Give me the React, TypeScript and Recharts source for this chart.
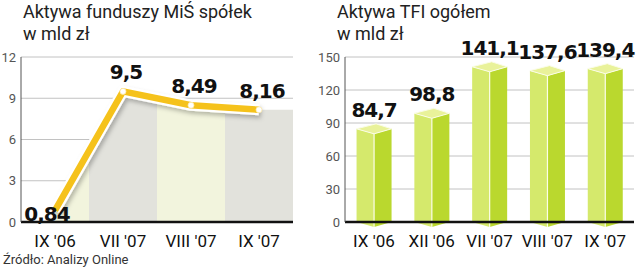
import React from "react";
import {
  ComposedChart,
  BarChart,
  Bar,
  Area,
  Line,
  XAxis,
  YAxis,
  CartesianGrid,
  ReferenceArea,
  LabelList,
} from "recharts";

const missCategories = ["IX '06", "VII '07", "VIII '07", "IX '07"];
const missValues = [0.84, 9.5, 8.49, 8.16];
const missTicks = [0, 3, 6, 9, 12];

const tfiCategories = ["IX '06", "XII '06", "VII '07", "VIII '07", "IX '07"];
const tfiValues = [84.7, 98.8, 141.1, 137.6, 139.4];
const tfiTicks = [0, 30, 60, 90, 120, 150];

const FONT = "Roboto, 'Open Sans', sans-serif";
const NUM_FONT = "'DejaVu Sans', Roboto, sans-serif";
const YELLOW = "#f5c21b";
const BAND_PALE = "#f2f4dd";
const BAND_GRAY = "#e2e2dc";

const fmt = (v: number) => String(v).replace(".", ",");

const missData = missCategories.map((name, i) => ({ name, value: missValues[i] }));
const tfiData = tfiCategories.map((name, i) => ({ name, value: tfiValues[i] }));

const numStyle = {
  fontFamily: NUM_FONT,
  fontWeight: 700,
  fontSize: 20,
  letterSpacing: -1,
};

// value labels over the yellow line; the first one sits down on the axis
function MissLabel(props: any) {
  const { x, y, value, index } = props;
  const first = index === 0;
  return (
    <text
      x={first ? x - 8 : x + 3}
      y={first ? y + 11 : y - 12}
      textAnchor="middle"
      style={numStyle}
      fill="#111"
    >
      {fmt(value)}
    </text>
  );
}

function WhiteDot(props: any) {
  const { cx, cy, index } = props;
  if (index === 0) return <g key="d0" />;
  return <circle key={`d${index}`} cx={cx} cy={cy} r={3} fill="#fff" stroke="#fbe9a8" strokeWidth={0.8} />;
}

// little prism: two front faces and a lozenge on top
function Prism(props: any) {
  const { x, y, width, height } = props;
  if (width == null || height == null) return null;
  const d = 5;
  const cx = x + width / 2;
  const base = y + height;
  return (
    <g>
      <path d={`M${x},${y} L${cx},${y + d} L${cx},${base + d} L${x},${base} Z`} fill="#d5e96c" />
      <path d={`M${cx},${y + d} L${x + width},${y} L${x + width},${base} L${cx},${base + d} Z`} fill="#bad82e" />
      <path
        d={`M${x},${y} L${cx + 2},${y - d} L${x + width},${y} L${cx},${y + d} Z`}
        fill="#e9f29a"
        stroke="#fbfde8"
        strokeWidth={1}
      />
      <line x1={cx} y1={y + d} x2={cx} y2={base + d} stroke="#fbfde8" strokeWidth={1.2} />
    </g>
  );
}

function TfiLabel(props: any) {
  const { x, y, width, value } = props;
  return (
    <text x={x + width / 2} y={y - 12} textAnchor="middle" style={numStyle} fill="#111">
      {fmt(value)}
    </text>
  );
}

const titleStyle: React.CSSProperties = {
  position: "absolute",
  top: 1,
  fontFamily: FONT,
  fontSize: 18,
  lineHeight: "22px",
  color: "#222",
  whiteSpace: "nowrap",
};

export default function App() {
  const axisTick = { fontSize: 17, fill: "#111", fontFamily: FONT };
  const yTick = { fontSize: 13, fill: "#555", fontFamily: FONT };

  return (
    <div style={{ position: "absolute", left: 0, top: 0, width: 640, height: 267, background: "#fff", overflow: "hidden" }}>
      <div style={{ ...titleStyle, left: 23 }}>
        Aktywa funduszy MiŚ spółek
        <br />w mld zł
      </div>
      <div style={{ ...titleStyle, left: 337 }}>
        Aktywa TFI ogółem
        <br />w mld zł
      </div>

      <div style={{ position: "absolute", left: 0, top: 0 }}>
        <ComposedChart width={300} height={267} data={missData} margin={{ top: 57, right: 7, bottom: 15, left: 0 }}>
          <defs>
            <linearGradient id="missStripes" x1="0" y1="0" x2="1" y2="0">
              <stop offset="0" stopColor={BAND_PALE} />
              <stop offset="0.1667" stopColor={BAND_PALE} />
              <stop offset="0.1667" stopColor={BAND_GRAY} />
              <stop offset="0.5" stopColor={BAND_GRAY} />
              <stop offset="0.5" stopColor={BAND_PALE} />
              <stop offset="0.8333" stopColor={BAND_PALE} />
              <stop offset="0.8333" stopColor={BAND_GRAY} />
              <stop offset="1" stopColor={BAND_GRAY} />
            </linearGradient>
            <filter id="lineShadow" x="-20%" y="-20%" width="140%" height="140%">
              <feDropShadow dx="2" dy="3" stdDeviation="2" floodColor="#000" floodOpacity="0.25" />
            </filter>
          </defs>
          <Area
            type="linear"
            dataKey="value"
            stroke="none"
            fill="url(#missStripes)"
            fillOpacity={1}
            isAnimationActive={false}
          />
          <ReferenceArea
            x1={missCategories[3]}
            x2={missCategories[3]}
            y1={0}
            y2={missValues[3]}
            fill={BAND_GRAY}
            fillOpacity={1}
            stroke="none"
          />
          <CartesianGrid vertical={false} stroke="#b3b3b3" strokeWidth={0.8} />
          <XAxis
            dataKey="name"
            scale="band"
            tick={axisTick}
            tickLine={false}
            tickSize={0}
            tickMargin={13}
            height={30}
            axisLine={{ stroke: "#111", strokeWidth: 2.5 }}
            interval={0}
          />
          <YAxis
            domain={[0, 12]}
            ticks={missTicks}
            width={21}
            tick={yTick}
            tickLine={false}
            tickSize={0}
            tickMargin={5}
            axisLine={{ stroke: "#555", strokeWidth: 1 }}
          />
          <Line
            type="linear"
            dataKey="value"
            stroke="#fff"
            strokeWidth={11}
            strokeLinejoin="round"
            dot={false}
            activeDot={false}
            style={{ filter: "url(#lineShadow)" }}
            isAnimationActive={false}
          />
          <Line
            type="linear"
            dataKey="value"
            stroke={YELLOW}
            strokeWidth={6.5}
            strokeLinejoin="round"
            dot={<WhiteDot />}
            activeDot={false}
            isAnimationActive={false}
          >
            <LabelList dataKey="value" content={<MissLabel />} />
          </Line>
        </ComposedChart>
      </div>

      <div style={{ position: "absolute", left: 300, top: 0 }}>
        <BarChart width={340} height={267} data={tfiData} margin={{ top: 57, right: 6, bottom: 15, left: 0 }} barCategoryGap="20%">
          <CartesianGrid vertical={false} stroke="#b3b3b3" strokeWidth={0.8} />
          <XAxis
            dataKey="name"
            tick={axisTick}
            tickLine={false}
            tickSize={0}
            tickMargin={13}
            height={30}
            axisLine={{ stroke: "#111", strokeWidth: 2.5 }}
            interval={0}
          />
          <YAxis
            domain={[0, 150]}
            ticks={tfiTicks}
            width={45}
            tick={yTick}
            tickLine={false}
            tickSize={0}
            tickMargin={5}
            axisLine={{ stroke: "#555", strokeWidth: 1 }}
          />
          <Bar dataKey="value" shape={<Prism />} isAnimationActive={false}>
            <LabelList dataKey="value" content={<TfiLabel />} />
          </Bar>
        </BarChart>
      </div>

      <div
        style={{
          position: "absolute",
          left: 3,
          top: 253,
          fontFamily: "'Liberation Sans Narrow', " + FONT,
          fontSize: 13,
          lineHeight: "13px",
          color: "#333",
          whiteSpace: "nowrap",
        }}
      >
        Źródło: Analizy Online
      </div>
    </div>
  );
}
